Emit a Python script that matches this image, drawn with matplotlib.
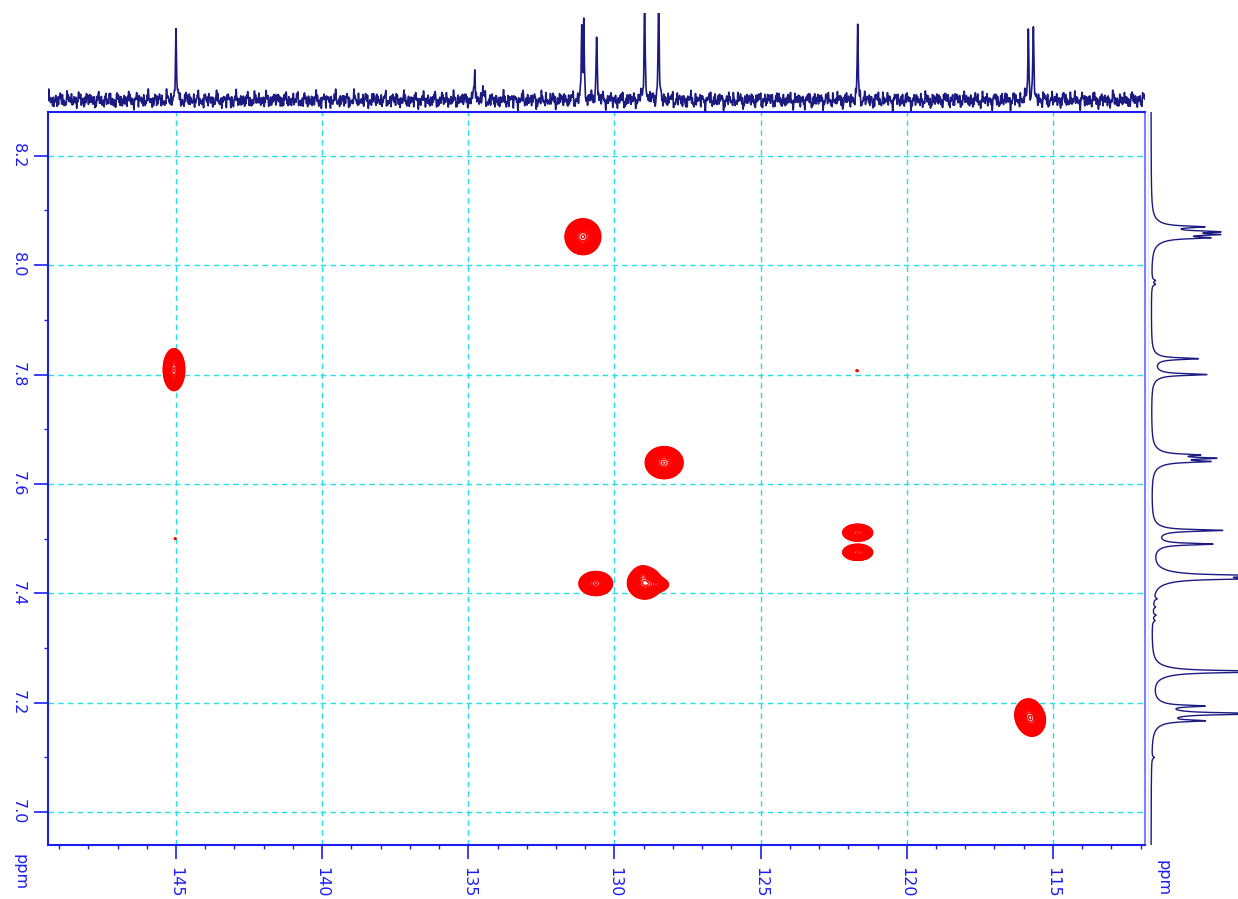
import numpy as np
import matplotlib.pyplot as plt

# 2D HSQC cross peaks: 13C shift, 1H shift, amplitude, sigma C, sigma H
c_shift = [131.08, 145.07, 128.30, 130.64, 128.97, 128.55, 129.05, 121.68, 121.68, 115.85, 115.71, 121.70, 145.03]
h_shift = [8.052, 7.809, 7.639, 7.418, 7.419, 7.416, 7.436, 7.511, 7.475, 7.179, 7.167, 7.807, 7.500]
amp = [1.0, 1.0, 1.0, 1.0, 1.0, 0.35, 0.3, 1.0, 1.0, 0.6, 0.6, 0.07, 0.07]
sig_c = [0.25, 0.15, 0.265, 0.235, 0.24, 0.20, 0.12, 0.21, 0.21, 0.20, 0.20, 0.05, 0.04]
sig_h = [0.0134, 0.0157, 0.012, 0.009, 0.0120, 0.006, 0.006, 0.0063, 0.006, 0.0125, 0.0125, 0.002, 0.002]

# 13C projection peaks (ppm, height)
c13_ppm = [145.0, 134.78, 134.5, 131.12, 131.05, 130.61, 128.97, 128.49, 121.68, 115.84, 115.67]
c13_int = [0.86, 0.37, 0.14, 0.83, 0.83, 0.78, 1.3, 1.3, 0.83, 0.83, 0.86]

# 1H projection peaks (ppm, height)
h1_ppm = [8.070, 8.061, 8.056, 8.050, 7.972, 7.965, 7.829, 7.800, 7.653, 7.647, 7.641,
          7.515, 7.490, 7.432, 7.427, 7.390, 7.375, 7.360, 7.350, 7.257, 7.194, 7.180, 7.167, 7.100]
h1_int = [0.50, 0.58, 0.55, 0.52, 0.04, 0.04, 0.53, 0.63, 0.42, 0.58, 0.55,
          0.80, 0.68, 1.3, 0.9, 0.04, 0.03, 0.04, 0.03, 1.6, 0.52, 1.3, 0.52, 0.03]

x_ticks = [145, 140, 135, 130, 125, 120, 115]
y_ticks = [8.2, 8.0, 7.8, 7.6, 7.4, 7.2, 7.0]

W, H = 1238, 899
blue = '#1c1cf5'
navy = '#1a1a80'

fig = plt.figure(figsize=(W / 100, H / 100), dpi=100)
ax = fig.add_axes([48 / W, 1 - 845 / H, (1145 - 48) / W, (845 - 112) / H])
axt = fig.add_axes([48 / W, 1 - 112 / H, (1145 - 48) / W, (112 - 13) / H])
axr = fig.add_axes([1148 / W, 1 - 845 / H, (1238 - 1148) / W, (845 - 112) / H])

xlim = (149.38, 111.85)
ylim = (6.94, 8.28)

# contour map
xc = np.linspace(xlim[1], xlim[0], 1400)
yc = np.linspace(ylim[0], ylim[1], 900)
X, Y = np.meshgrid(xc, yc)
Z = np.zeros_like(X)
for c, h, a, sc, sh in zip(c_shift, h_shift, amp, sig_c, sig_h):
    Z += a * np.exp(-((X - c) ** 2) / (2 * sc ** 2) - ((Y - h) ** 2) / (2 * sh ** 2))
levels = np.geomspace(0.05, 0.97, 26)
ax.contour(X, Y, Z, levels=levels, colors='red', linewidths=1.0)

ax.set_xticks(x_ticks)
ax.set_xticks(np.arange(112, 150, 1), minor=True)
ax.set_yticks(y_ticks)
ax.set_yticks(np.arange(7.0, 8.25, 0.1), minor=True)
ax.set_xticklabels([str(t) for t in x_ticks], rotation=-90, fontsize=11.5, color=blue)
ax.set_yticklabels(['%.1f' % t for t in y_ticks], rotation=-90, fontsize=11.5, color=blue, va='center')
ax.set_xlim(xlim)
ax.set_ylim(ylim)
ax.tick_params(which='major', length=10, width=1.2, color=blue, direction='out', pad=6)
ax.tick_params(which='minor', length=3, width=1, color=blue, direction='out')
ax.grid(True, which='major', color='#22e0e8', linestyle=(0, (4, 3)), linewidth=1)
ax.set_axisbelow(True)
for s in ax.spines.values():
    s.set_color(blue)
    s.set_linewidth(1.5)
ax.spines['right'].set_color('#8080ff')

# 13C trace on top
xt = np.linspace(xlim[0], xlim[1], 8000)
noise = 0.024 * (np.sin(xt * 2 * np.pi / 0.131) + np.sin(xt * 2 * np.pi / 0.0773 + 1.3)
                 + np.sin(xt * 2 * np.pi / 0.213 + 0.4) + np.sin(xt * 2 * np.pi / 0.0517 + 2.1)
                 + np.sin(xt * 2 * np.pi / 0.337 + 0.9) + np.sin(xt * 2 * np.pi / 0.0391 + 2.7))
yt = noise.copy()
for p, h in zip(c13_ppm, c13_int):
    yt += h * 0.018 ** 2 / ((xt - p) ** 2 + 0.018 ** 2)
axt.plot(xt, yt, color=navy, lw=1.2)
axt.set_xlim(xlim)
axt.set_ylim(-0.138, 1.0)
axt.axis('off')

# 1H trace on right
yr = np.linspace(ylim[0], ylim[1], 6000)
xr = np.zeros_like(yr)
for p, h in zip(h1_ppm, h1_int):
    xr += h * (0.85 * 0.0018 ** 2 / ((yr - p) ** 2 + 0.0018 ** 2)
               + 0.15 * 0.01 ** 2 / ((yr - p) ** 2 + 0.01 ** 2))
axr.plot(xr, yr, color=navy, lw=1)
axr.axvline(-0.05, color='#8080ff', lw=1)
axr.set_ylim(ylim)
axr.set_xlim(-3 / 87, 1.0)
axr.axis('off')

fig.text(20 / W, 1 - 872 / H, 'ppm', rotation=-90, ha='center', va='center', fontsize=11.5, color=blue)
fig.text(1163 / W, 1 - 878 / H, 'ppm', rotation=-90, ha='center', va='center', fontsize=11.5, color=blue)

fig.savefig('out.png', dpi=100)
